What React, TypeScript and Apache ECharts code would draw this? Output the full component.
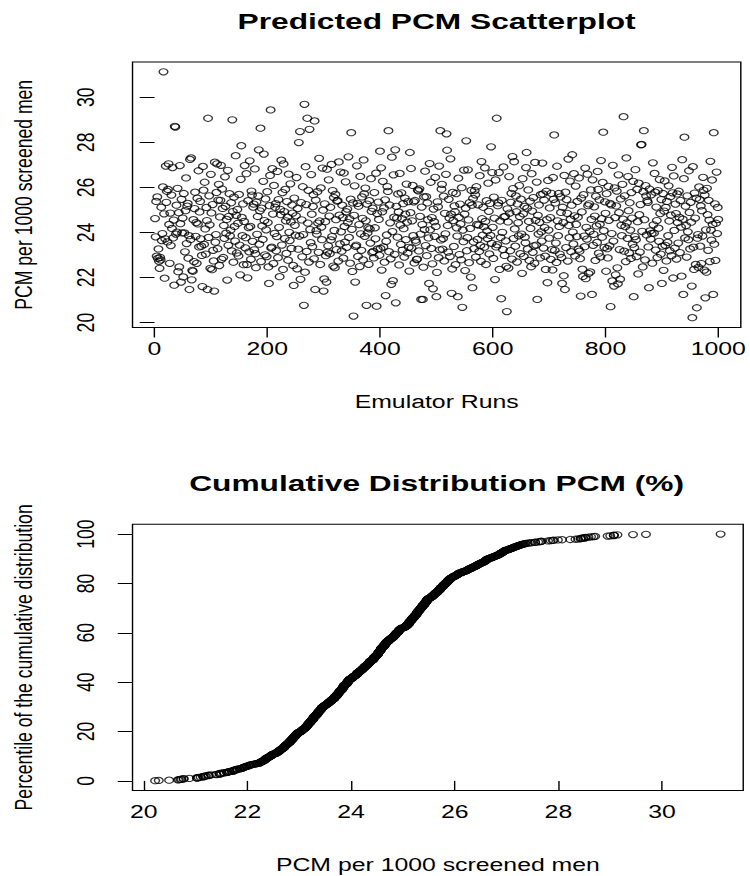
import React, { useEffect, useRef } from "react";
import * as echarts from "echarts";

// Predicted PCM per 1000 screened men, emulator runs 1-1000
const pcmRuns001to250: number[] = [
  24.62, 23.81, 25.38, 22.95, 25.58, 22.85, 23.27, 22.72, 22.41, 22.9, 22.78, 25.12, 23.64, 23.95, 26.02, 31.13, 24.83, 21.97, 23.72, 26.95, 25.34, 25.83, 23.58, 25.91, 27.05, 24.36, 22.63, 24.86, 23.42, 25.66, 24.18, 26.88, 23.76, 24.55, 21.66, 28.71, 28.68, 23.93, 25.21, 24.02, 25.96, 22.26, 24.88, 22.47, 26.97, 24.39, 21.8, 25.47, 23.98, 24.64,
  22.03, 25.73, 23.98, 23.14, 24.97, 26.42, 23.51, 25.17, 25.29, 22.86, 23.86, 21.47, 27.24, 23.69, 27.31, 21.9, 22.32, 22.28, 24.57, 22.71, 25.06, 25.79, 23.83, 24.44, 22.63, 25.52, 24.38, 26.74, 23.36, 24.91, 25.38, 23.72, 23.39, 22.98, 21.6, 26.93, 25.88, 23.47, 26.23, 24.16, 23.04, 25.11, 24.53, 21.47, 29.07, 23.78, 25.63, 24.34, 22.41, 26.58,
  24.87, 22.35, 25.24, 23.21, 22.74, 21.4, 27.12, 23.57, 23.91, 25.78, 27.05, 23.28, 25.44, 26.14, 22.53, 24.69, 25.43, 26.98, 22.81, 25.93, 25.07, 22.89, 24.31, 23.74, 26.47, 25.16, 23.97, 24.58, 21.89, 26.76, 23.43, 24.72, 25.72, 23.85, 24.11, 25.32, 23.18, 29.0, 24.93, 22.68, 25.57, 24.27, 23.62, 27.41, 24.76, 23.09, 25.02, 24.41, 22.96, 25.69,
  23.44, 22.12, 26.36, 27.85, 24.67, 23.86, 25.27, 22.57, 24.49, 26.97, 23.32, 23.77, 26.61, 22.58, 21.99, 25.41, 24.22, 23.14, 27.18, 24.27, 22.81, 25.84, 25.66, 23.61, 25.13, 25.26, 23.23, 26.82, 23.06, 22.44, 25.35, 23.92, 24.71, 25.62, 27.67, 23.48, 24.96, 28.63, 22.71, 25.08, 24.29, 23.69, 26.27, 27.48, 24.53, 23.01, 25.49, 24.12, 22.93, 25.81,
  24.44, 22.47, 21.74, 25.19, 26.53, 29.44, 23.31, 23.35, 26.83, 24.82, 22.62, 26.09, 23.96, 25.12, 25.28, 23.19, 23.82, 26.71, 22.88, 25.46, 24.23, 22.04, 25.03, 24.79, 27.21, 23.44, 25.77, 22.36, 27.04, 24.93, 23.73, 25.91, 24.52, 23.07, 25.37, 24.68, 22.77, 26.59, 24.01, 23.64, 26.16, 24.47, 23.29, 25.22, 24.86, 22.54, 21.65, 25.53, 24.32, 23.88,
];
const pcmRuns251to500: number[] = [
  24.74, 26.44, 22.39, 25.06, 23.26, 27.99, 23.84, 28.48, 21.92, 25.33, 24.56, 22.92, 26.03, 23.91, 20.77, 29.69, 22.24, 26.92, 25.24, 23.16, 29.07, 24.42, 25.87, 22.69, 28.58, 24.13, 23.55, 26.57, 24.81, 23.37, 25.15, 25.68, 22.83, 28.95, 21.47, 25.44, 24.08, 23.93, 25.81, 24.42, 23.12, 27.29, 24.51, 22.58, 25.98, 24.24, 23.68, 26.86, 24.99, 21.4,
  21.94, 25.27, 24.48, 22.97, 21.8, 26.81, 23.13, 23.41, 26.34, 24.73, 23.06, 25.12, 23.67, 27.02, 23.82, 25.86, 22.51, 25.55, 24.09, 22.44, 25.69, 24.57, 23.24, 25.39, 25.42, 22.73, 27.13, 24.77, 23.49, 26.68, 24.03, 23.17, 25.21, 24.66, 22.86, 26.64, 24.27, 23.57, 26.25, 24.92, 23.34, 25.04, 24.44, 27.36, 23.78, 24.61, 22.64, 25.48, 28.43, 24.14,
  22.27, 25.31, 20.29, 24.76, 26.07, 21.8, 23.38, 23.44, 26.96, 25.29, 22.94, 25.17, 24.35, 22.49, 26.49, 23.94, 23.21, 25.58, 24.63, 22.78, 27.22, 25.71, 23.83, 25.97, 24.52, 20.77, 25.26, 23.98, 24.21, 22.59, 25.41, 24.16, 23.53, 26.39, 24.94, 23.11, 25.08, 23.16, 22.87, 25.77, 24.21, 23.72, 26.63, 20.73, 24.84, 23.27, 25.35, 24.58, 22.99, 27.61,
  23.29, 26.87, 22.33, 24.92, 26.27, 23.36, 25.09, 22.68, 25.45, 21.2, 23.61, 23.89, 26.04, 25.82, 28.52, 23.15, 25.22, 24.43, 22.83, 21.7, 27.34, 24.04, 21.86, 26.56, 24.68, 23.03, 27.67, 20.88, 25.16, 24.64, 23.79, 25.71, 24.91, 22.56, 26.62, 24.33, 23.47, 25.76, 24.62, 23.22, 25.28, 24.17, 22.91, 25.53, 24.81, 23.68, 26.15, 24.46, 23.09, 25.37,
  23.34, 22.29, 27.55, 24.88, 26.84, 23.31, 24.52, 26.09, 23.86, 25.36, 22.65, 25.42, 23.66, 23.57, 22.8, 22.82, 25.89, 25.85, 23.18, 25.94, 24.72, 23.93, 21.03, 25.13, 24.35, 21.03, 22.46, 25.58, 24.13, 26.72, 23.42, 25.59, 22.97, 25.31, 24.57, 23.76, 21.74, 27.06, 24.12, 26.23, 23.29, 24.66, 22.61, 21.5, 25.04, 24.48, 23.83, 26.45, 24.27, 21.15,
];
const pcmRuns501to750: number[] = [
  22.23, 25.36, 25.14, 22.88, 26.95, 23.23, 28.52, 23.67, 25.92, 26.14, 23.26, 23.73, 25.61, 22.74, 24.85, 23.94, 26.58, 28.38, 27.65, 24.31, 23.13, 25.47, 24.64, 22.93, 27.27, 24.81, 21.3, 22.38, 25.78, 24.53, 23.38, 25.18, 24.92, 22.57, 25.73, 24.21, 23.84, 21.15, 26.41, 24.67, 23.02, 25.26, 24.38, 22.79, 25.99, 20.68, 24.11, 23.59, 26.77, 24.82,
  22.31, 25.08, 28.07, 23.19, 23.77, 26.78, 24.56, 22.66, 25.33, 24.18, 22.02, 25.87, 25.21, 21.55, 25.51, 23.58, 23.28, 25.86, 25.67, 22.91, 26.03, 24.36, 23.69, 25.23, 24.33, 23.16, 26.52, 23.42, 22.72, 27.15, 24.61, 23.88, 25.12, 24.26, 23.35, 26.87, 24.49, 22.58, 25.41, 24.07, 23.73, 26.19, 24.94, 23.05, 25.29, 23.87, 27.8, 23.52, 26.66, 24.23,
  22.85, 25.57, 24.64, 21.91, 26.33, 23.36, 29.07, 23.46, 25.19, 25.31, 26.66, 22.36, 24.51, 23.78, 21.06, 25.43, 24.01, 23.24, 26.91, 24.69, 22.98, 24.72, 23.63, 22.5, 20.49, 25.05, 24.47, 22.42, 26.48, 24.86, 23.19, 25.34, 25.74, 22.82, 27.37, 25.95, 23.73, 27.14, 24.16, 23.39, 25.62, 24.92, 22.69, 25.27, 24.43, 23.85, 26.08, 24.71, 23.06, 25.48,
  23.93, 22.19, 26.39, 24.83, 22.94, 25.16, 23.79, 23.54, 26.88, 27.55, 25.08, 23.27, 25.89, 24.49, 22.76, 25.39, 24.18, 22.48, 26.61, 24.95, 23.12, 25.55, 23.41, 22.63, 27.11, 24.54, 23.44, 26.24, 21.03, 24.76, 23.93, 25.22, 24.45, 22.87, 25.68, 24.03, 23.62, 27.08, 25.71, 23.31, 25.44, 24.22, 22.95, 22.36, 25.83, 24.57, 21.77, 26.31, 24.11, 23.75,
  25.09, 24.66, 22.81, 25.74, 23.24, 22.34, 26.44, 25.47, 28.33, 23.21, 25.31, 23.53, 22.67, 26.94, 24.52, 23.86, 25.73, 24.27, 23.04, 25.58, 24.89, 22.89, 21.74, 25.12, 24.44, 22.08, 26.53, 21.47, 25.79, 23.33, 25.46, 24.85, 22.73, 27.26, 24.31, 23.77, 26.28, 24.59, 23.15, 25.21, 27.45, 24.02, 23.49, 26.61, 24.74, 22.96, 26.06, 24.36, 23.82, 25.38,
];
const pcmRuns751to1000: number[] = [
  24.68, 23.26, 26.42, 23.17, 22.84, 21.18, 25.53, 24.91, 22.37, 22.05, 25.68, 23.84, 23.37, 26.86, 21.95, 24.23, 23.71, 26.59, 25.19, 22.18, 25.27, 24.05, 22.25, 25.89, 24.58, 21.25, 26.34, 23.43, 23.92, 25.14, 24.73, 22.76, 25.61, 24.29, 23.56, 26.71, 25.91, 23.08, 25.45, 24.37, 22.92, 27.19, 24.61, 23.79, 26.22, 28.45, 24.08, 23.34, 25.36, 24.85,
  22.28, 25.72, 23.28, 22.87, 26.05, 24.54, 23.41, 25.29, 20.71, 25.23, 23.95, 21.85, 26.98, 23.62, 21.62, 25.98, 24.66, 22.12, 25.18, 25.84, 22.43, 21.72, 26.56, 24.88, 23.24, 21.93, 25.49, 24.32, 23.86, 26.14, 24.59, 29.14, 23.17, 25.63, 24.26, 22.71, 27.31, 24.43, 23.74, 26.48, 24.97, 23.09, 25.32, 24.11, 22.85, 25.77, 24.64, 23.48, 26.27, 21.15,
  23.33, 23.82, 26.79, 23.68, 22.93, 25.91, 24.48, 22.16, 26.19, 24.79, 23.13, 25.24, 27.89, 27.91, 24.05, 22.47, 25.81, 28.52, 24.57, 22.78, 26.08, 25.62, 23.89, 25.41, 25.34, 23.36, 21.55, 25.93, 24.07, 23.71, 25.67, 23.96, 22.64, 27.09, 24.34, 23.97, 26.62, 25.79, 23.22, 25.13, 24.53, 22.89, 25.86, 24.19, 23.61, 26.35, 24.84, 23.04, 25.46, 21.74,
  23.39, 25.73, 22.32, 24.95, 26.29, 23.43, 25.11, 22.74, 25.38, 23.56, 23.86, 26.07, 24.51, 23.19, 25.59, 24.77, 22.97, 26.89, 25.76, 21.98, 26.51, 24.09, 23.31, 25.26, 24.84, 22.82, 25.71, 24.44, 23.53, 25.83, 24.67, 23.11, 25.42, 24.24, 22.06, 27.23, 24.59, 21.25, 26.39, 28.23, 23.76, 25.17, 24.31, 22.91, 25.63, 24.03, 23.68, 26.74, 24.89, 23.27,
  25.34, 24.46, 21.62, 20.22, 26.92, 23.35, 22.36, 25.75, 24.64, 22.58, 25.52, 20.66, 23.75, 23.91, 22.45, 26.02, 25.46, 23.39, 25.18, 22.62, 24.97, 23.84, 26.45, 25.87, 22.33, 25.66, 21.1, 24.12, 22.24, 25.96, 24.79, 23.21, 25.43, 24.55, 22.71, 27.16, 24.11, 23.66, 26.33, 24.36, 21.25, 28.43, 23.48, 25.27, 22.76, 24.41, 26.68, 23.95, 25.11, 24.58,
];

const runTicks = [0, 200, 400, 600, 800, 1000];
const pcmTicks = [20, 22, 24, 26, 28, 30];
const percentTicks = [0, 20, 40, 60, 80, 100];

const topTitle = "Predicted PCM Scatterplot";
const bottomTitle = "Cumulative Distribution PCM (%)";
const runsLabel = "Emulator Runs";
const pcmLabel = "PCM per 1000 screened men";
const percentileLabel = "Percentile of the cumulative distribution";

// The reference is stretched horizontally; draw in a narrower frame and stretch it.
const W0 = 532;
const H = 876;
const SX = 750 / W0;
const FONT = '"Liberation Sans", Arial, Helvetica, sans-serif';
const AXIS_FS = 17.6;
const TITLE_FS = 22.5;

// R-style 4% padding of the data range
function padRange(lo: number, hi: number): [number, number] {
  const d = (hi - lo) * 0.04;
  return [lo - d, hi + d];
}

export default function App() {
  const ref = useRef<HTMLDivElement>(null);

  useEffect(() => {
    if (!ref.current) return;
    document.body.style.margin = "0";
    document.body.style.overflow = "hidden";
    const chart = echarts.init(ref.current, null, { renderer: "svg" });

    const values = [
      ...pcmRuns001to250,
      ...pcmRuns251to500,
      ...pcmRuns501to750,
      ...pcmRuns751to1000,
    ];
    const n = values.length;
    const scatterData = values.map((v, i) => [i + 1, v]);
    const sorted = [...values].sort((a, b) => a - b);
    const cdfData = sorted.map((v, i) => [v, ((i + 1) / n) * 100]);

    const vMin = Math.min(...values);
    const vMax = Math.max(...values);
    const [runMin, runMax] = padRange(1, n);
    const [pcmMin, pcmMax] = padRange(vMin, vMax);
    const [pctMin, pctMax] = padRange(cdfData[0][1], 100);

    const textStyle = { fontFamily: FONT, fontSize: AXIS_FS, color: "#000" };
    const plain = (v: number) => String(v);

    const makeX = (gridIndex: number, min: number, max: number, ticks: number[], name: string) => ({
      type: "value",
      gridIndex,
      min,
      max,
      name,
      nameLocation: "middle",
      nameGap: 66,
      nameTextStyle: { ...textStyle },
      axisLine: { show: false },
      splitLine: { show: false },
      axisTick: {
        show: true,
        inside: false,
        length: 10,
        customValues: ticks,
        lineStyle: { color: "#000", width: 1 },
      },
      axisLabel: { show: true, customValues: ticks, margin: 13, formatter: plain, ...textStyle },
    });

    const makeY = (gridIndex: number, min: number, max: number, ticks: number[], name: string) => ({
      type: "value",
      gridIndex,
      min,
      max,
      name,
      nameLocation: "middle",
      nameRotate: 90,
      nameGap: 68,
      nameTextStyle: { ...textStyle },
      axisLine: { show: false },
      splitLine: { show: false },
      axisTick: {
        show: true,
        inside: false,
        length: 10.5,
        customValues: ticks,
        lineStyle: { color: "#000", width: 1 },
      },
      axisLabel: { show: true, customValues: ticks, rotate: 90, margin: 24, formatter: plain, ...textStyle },
    });

    const markerStyle = {
      color: "rgba(0,0,0,0)",
      borderColor: "#000",
      borderWidth: 1,
    };

    const plotCenterX = 92.2 + 435 / 2;

    chart.setOption({
      animation: false,
      backgroundColor: "#ffffff",
      title: [
        {
          text: topTitle,
          left: plotCenterX,
          top: 9.5,
          textAlign: "center",
          padding: 0,
          textStyle: { fontFamily: FONT, fontSize: TITLE_FS, fontWeight: "bold", color: "#000" },
        },
        {
          text: bottomTitle,
          left: plotCenterX,
          top: 471.5,
          textAlign: "center",
          padding: 0,
          textStyle: { fontFamily: FONT, fontSize: TITLE_FS, fontWeight: "bold", color: "#000" },
        },
      ],
      grid: [
        {
          left: 92.2,
          top: 62,
          width: 435,
          height: 265.5,
          show: true,
          borderColor: "#000",
          borderWidth: 1,
          backgroundColor: "rgba(0,0,0,0)",
          containLabel: false,
        },
        {
          left: 92.2,
          top: 524.2,
          width: 435,
          height: 266.3,
          show: true,
          borderColor: "#000",
          borderWidth: 1,
          backgroundColor: "rgba(0,0,0,0)",
          containLabel: false,
        },
      ],
      xAxis: [
        makeX(0, runMin, runMax, runTicks, runsLabel),
        makeX(1, pcmMin, pcmMax, pcmTicks, pcmLabel),
      ],
      yAxis: [
        makeY(0, pcmMin, pcmMax, pcmTicks, pcmLabel),
        makeY(1, pctMin, pctMax, percentTicks, percentileLabel),
      ],
      series: [
        {
          type: "scatter",
          name: "Predicted PCM",
          xAxisIndex: 0,
          yAxisIndex: 0,
          data: scatterData,
          symbol: "circle",
          symbolSize: 6.2,
          itemStyle: markerStyle,
          silent: true,
        },
        {
          type: "scatter",
          name: "Cumulative distribution",
          xAxisIndex: 1,
          yAxisIndex: 1,
          data: cdfData,
          symbol: "circle",
          symbolSize: 6.2,
          itemStyle: markerStyle,
          silent: true,
        },
      ],
    });

    return () => {
      chart.dispose();
    };
  }, []);

  return (
    <div
      ref={ref}
      style={{
        position: "absolute",
        left: 0,
        top: 0,
        width: W0,
        height: H,
        transform: `scaleX(${SX})`,
        transformOrigin: "0 0",
        background: "#fff",
      }}
    />
  );
}
